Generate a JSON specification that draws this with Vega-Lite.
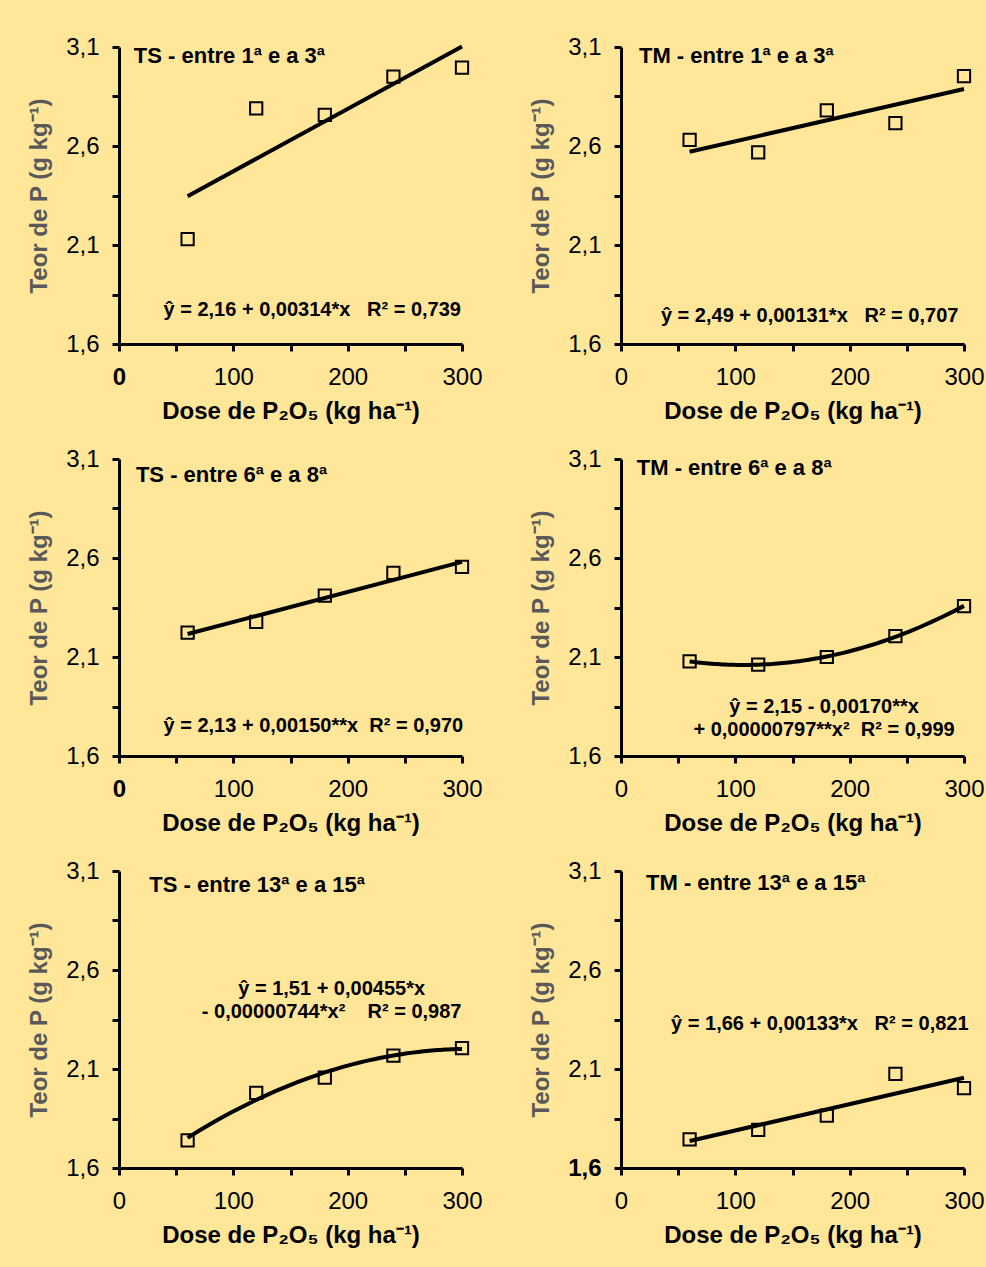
{
  "$schema": "https://vega.github.io/schema/vega-lite/v6.json",
  "background": "#FFE699",
  "padding": {"left": 27, "top": 35, "right": 5, "bottom": 22},
  "datasets": {
    "pts": [
      {"p": "TS1", "x": 60, "y": 2.13}, {"p": "TS1", "x": 120, "y": 2.79}, {"p": "TS1", "x": 180, "y": 2.757}, {"p": "TS1", "x": 240, "y": 2.95}, {"p": "TS1", "x": 300, "y": 2.996},
      {"p": "TM1", "x": 60, "y": 2.631}, {"p": "TM1", "x": 120, "y": 2.568}, {"p": "TM1", "x": 180, "y": 2.78}, {"p": "TM1", "x": 240, "y": 2.715}, {"p": "TM1", "x": 300, "y": 2.953},
      {"p": "TS6", "x": 60, "y": 2.223}, {"p": "TS6", "x": 120, "y": 2.278}, {"p": "TS6", "x": 180, "y": 2.41}, {"p": "TS6", "x": 240, "y": 2.525}, {"p": "TS6", "x": 300, "y": 2.555},
      {"p": "TM6", "x": 60, "y": 2.078}, {"p": "TM6", "x": 120, "y": 2.061}, {"p": "TM6", "x": 180, "y": 2.1}, {"p": "TM6", "x": 240, "y": 2.205}, {"p": "TM6", "x": 300, "y": 2.357},
      {"p": "TS13", "x": 60, "y": 1.739}, {"p": "TS13", "x": 120, "y": 1.979}, {"p": "TS13", "x": 180, "y": 2.057}, {"p": "TS13", "x": 240, "y": 2.167}, {"p": "TS13", "x": 300, "y": 2.206},
      {"p": "TM13", "x": 60, "y": 1.745}, {"p": "TM13", "x": 120, "y": 1.792}, {"p": "TM13", "x": 180, "y": 1.864}, {"p": "TM13", "x": 240, "y": 2.075}, {"p": "TM13", "x": 300, "y": 2.003}
    ]
  },
  "spacing": 24,
  "vconcat": [
    {
      "hconcat": [
        {
          "width": 343, "height": 297,
          "layer": [
            {"data": {"name": "pts"}, "transform": [{"filter": "datum.p == 'TS1'"}, {"regression": "y", "on": "x"}], "mark": {"type": "line", "color": "#000000", "strokeWidth": 4},
             "encoding": {"x": {"field": "x", "type": "quantitative"}, "y": {"field": "y", "type": "quantitative"}}},
            {"data": {"name": "pts"}, "transform": [{"filter": "datum.p == 'TS1'"}], "mark": {"type": "point", "shape": "square", "size": 150, "filled": false, "color": "#000000", "strokeWidth": 2, "opacity": 1},
             "encoding": {
               "x": {"field": "x", "type": "quantitative", "scale": {"domain": [0, 300], "nice": false}, "axis": {"values": [0, 50, 100, 150, 200, 250, 300], "labelExpr": "datum.value % 100 == 0 ? '' + datum.value : ''", "labelFontWeight": {"condition": {"test": "datum.value == 0", "value": "bold"}, "value": "normal"}, "title": "Dose de P₂O₅ (kg ha⁻¹)"}},
               "y": {"field": "y", "type": "quantitative", "scale": {"domain": [1.6, 3.1], "nice": false, "zero": false}, "axis": {"values": [1.6, 1.85, 2.1, 2.35, 2.6, 2.85, 3.1], "labelExpr": "round((datum.value - 1.6) * 4) % 2 == 1 ? '' : replace(format(datum.value, '.1f'), '.', ',')", "title": "Teor de P (g kg⁻¹)"}}
             }},
            {"data": {"values": [{"t": "TS - entre 1ª e a 3ª"}]}, "mark": {"type": "text", "align": "left", "baseline": "alphabetic", "fontSize": 22}, "encoding": {"x": {"datum": 13, "type": "quantitative"}, "y": {"datum": 3.02, "type": "quantitative"}, "text": {"field": "t"}}},
            {"data": {"values": [{"t": "ŷ = 2,16 + 0,00314*x\u00a0\u00a0\u00a0R² = 0,739"}]}, "mark": {"type": "text", "align": "center", "baseline": "alphabetic", "fontSize": 20}, "encoding": {"x": {"datum": 169, "type": "quantitative"}, "y": {"datum": 1.74, "type": "quantitative"}, "text": {"field": "t"}}}
          ]
        },
        {
          "width": 343, "height": 297,
          "layer": [
            {"data": {"name": "pts"}, "transform": [{"filter": "datum.p == 'TM1'"}, {"regression": "y", "on": "x"}], "mark": {"type": "line", "color": "#000000", "strokeWidth": 4},
             "encoding": {"x": {"field": "x", "type": "quantitative"}, "y": {"field": "y", "type": "quantitative"}}},
            {"data": {"name": "pts"}, "transform": [{"filter": "datum.p == 'TM1'"}], "mark": {"type": "point", "shape": "square", "size": 150, "filled": false, "color": "#000000", "strokeWidth": 2, "opacity": 1},
             "encoding": {
               "x": {"field": "x", "type": "quantitative", "scale": {"domain": [0, 300], "nice": false}, "axis": {"values": [0, 50, 100, 150, 200, 250, 300], "labelExpr": "datum.value % 100 == 0 ? '' + datum.value : ''", "title": "Dose de P₂O₅ (kg ha⁻¹)"}},
               "y": {"field": "y", "type": "quantitative", "scale": {"domain": [1.6, 3.1], "nice": false, "zero": false}, "axis": {"values": [1.6, 1.85, 2.1, 2.35, 2.6, 2.85, 3.1], "labelExpr": "round((datum.value - 1.6) * 4) % 2 == 1 ? '' : replace(format(datum.value, '.1f'), '.', ',')", "title": "Teor de P (g kg⁻¹)"}}
             }},
            {"data": {"values": [{"t": "TM - entre 1ª e a 3ª"}]}, "mark": {"type": "text", "align": "left", "baseline": "alphabetic", "fontSize": 22}, "encoding": {"x": {"datum": 15.7, "type": "quantitative"}, "y": {"datum": 3.02, "type": "quantitative"}, "text": {"field": "t"}}},
            {"data": {"values": [{"t": "ŷ = 2,49 + 0,00131*x\u00a0\u00a0\u00a0R² = 0,707"}]}, "mark": {"type": "text", "align": "center", "baseline": "alphabetic", "fontSize": 20}, "encoding": {"x": {"datum": 165, "type": "quantitative"}, "y": {"datum": 1.712, "type": "quantitative"}, "text": {"field": "t"}}}
          ]
        }
      ],
      "spacing": 159,
      "bounds": "flush"
    },
    {
      "hconcat": [
        {
          "width": 343, "height": 297,
          "layer": [
            {"data": {"name": "pts"}, "transform": [{"filter": "datum.p == 'TS6'"}, {"regression": "y", "on": "x"}], "mark": {"type": "line", "color": "#000000", "strokeWidth": 4},
             "encoding": {"x": {"field": "x", "type": "quantitative"}, "y": {"field": "y", "type": "quantitative"}}},
            {"data": {"name": "pts"}, "transform": [{"filter": "datum.p == 'TS6'"}], "mark": {"type": "point", "shape": "square", "size": 150, "filled": false, "color": "#000000", "strokeWidth": 2, "opacity": 1},
             "encoding": {
               "x": {"field": "x", "type": "quantitative", "scale": {"domain": [0, 300], "nice": false}, "axis": {"values": [0, 50, 100, 150, 200, 250, 300], "labelExpr": "datum.value % 100 == 0 ? '' + datum.value : ''", "labelFontWeight": {"condition": {"test": "datum.value == 0", "value": "bold"}, "value": "normal"}, "title": "Dose de P₂O₅ (kg ha⁻¹)"}},
               "y": {"field": "y", "type": "quantitative", "scale": {"domain": [1.6, 3.1], "nice": false, "zero": false}, "axis": {"values": [1.6, 1.85, 2.1, 2.35, 2.6, 2.85, 3.1], "labelExpr": "round((datum.value - 1.6) * 4) % 2 == 1 ? '' : replace(format(datum.value, '.1f'), '.', ',')", "title": "Teor de P (g kg⁻¹)"}}
             }},
            {"data": {"values": [{"t": "TS - entre 6ª e a 8ª"}]}, "mark": {"type": "text", "align": "left", "baseline": "alphabetic", "fontSize": 22}, "encoding": {"x": {"datum": 14.8, "type": "quantitative"}, "y": {"datum": 2.986, "type": "quantitative"}, "text": {"field": "t"}}},
            {"data": {"values": [{"t": "ŷ = 2,13 + 0,00150**x\u00a0\u00a0R² = 0,970"}]}, "mark": {"type": "text", "align": "center", "baseline": "alphabetic", "fontSize": 20}, "encoding": {"x": {"datum": 170, "type": "quantitative"}, "y": {"datum": 1.719, "type": "quantitative"}, "text": {"field": "t"}}}
          ]
        },
        {
          "width": 343, "height": 297,
          "layer": [
            {"data": {"name": "pts"}, "transform": [{"filter": "datum.p == 'TM6'"}, {"regression": "y", "on": "x", "method": "poly", "order": 2}], "mark": {"type": "line", "color": "#000000", "strokeWidth": 4},
             "encoding": {"x": {"field": "x", "type": "quantitative"}, "y": {"field": "y", "type": "quantitative"}}},
            {"data": {"name": "pts"}, "transform": [{"filter": "datum.p == 'TM6'"}], "mark": {"type": "point", "shape": "square", "size": 150, "filled": false, "color": "#000000", "strokeWidth": 2, "opacity": 1},
             "encoding": {
               "x": {"field": "x", "type": "quantitative", "scale": {"domain": [0, 300], "nice": false}, "axis": {"values": [0, 50, 100, 150, 200, 250, 300], "labelExpr": "datum.value % 100 == 0 ? '' + datum.value : ''", "title": "Dose de P₂O₅ (kg ha⁻¹)"}},
               "y": {"field": "y", "type": "quantitative", "scale": {"domain": [1.6, 3.1], "nice": false, "zero": false}, "axis": {"values": [1.6, 1.85, 2.1, 2.35, 2.6, 2.85, 3.1], "labelExpr": "round((datum.value - 1.6) * 4) % 2 == 1 ? '' : replace(format(datum.value, '.1f'), '.', ',')", "title": "Teor de P (g kg⁻¹)"}}
             }},
            {"data": {"values": [{"t": "TM - entre 6ª e a 8ª"}]}, "mark": {"type": "text", "align": "left", "baseline": "alphabetic", "fontSize": 22}, "encoding": {"x": {"datum": 13.8, "type": "quantitative"}, "y": {"datum": 3.02, "type": "quantitative"}, "text": {"field": "t"}}},
            {"data": {"values": [{"t": ["ŷ = 2,15 - 0,00170**x", "+ 0,00000797**x²\u00a0\u00a0R² = 0,999"]}]}, "mark": {"type": "text", "align": "center", "baseline": "alphabetic", "fontSize": 20, "lineHeight": 23}, "encoding": {"x": {"datum": 177.6, "type": "quantitative"}, "y": {"datum": 1.818, "type": "quantitative"}, "text": {"field": "t"}}}
          ]
        }
      ],
      "spacing": 159,
      "bounds": "flush"
    },
    {
      "hconcat": [
        {
          "width": 343, "height": 297,
          "layer": [
            {"data": {"name": "pts"}, "transform": [{"filter": "datum.p == 'TS13'"}, {"regression": "y", "on": "x", "method": "poly", "order": 2}], "mark": {"type": "line", "color": "#000000", "strokeWidth": 4},
             "encoding": {"x": {"field": "x", "type": "quantitative"}, "y": {"field": "y", "type": "quantitative"}}},
            {"data": {"name": "pts"}, "transform": [{"filter": "datum.p == 'TS13'"}], "mark": {"type": "point", "shape": "square", "size": 150, "filled": false, "color": "#000000", "strokeWidth": 2, "opacity": 1},
             "encoding": {
               "x": {"field": "x", "type": "quantitative", "scale": {"domain": [0, 300], "nice": false}, "axis": {"values": [0, 50, 100, 150, 200, 250, 300], "labelExpr": "datum.value % 100 == 0 ? '' + datum.value : ''", "title": "Dose de P₂O₅ (kg ha⁻¹)"}},
               "y": {"field": "y", "type": "quantitative", "scale": {"domain": [1.6, 3.1], "nice": false, "zero": false}, "axis": {"values": [1.6, 1.85, 2.1, 2.35, 2.6, 2.85, 3.1], "labelExpr": "round((datum.value - 1.6) * 4) % 2 == 1 ? '' : replace(format(datum.value, '.1f'), '.', ',')", "title": "Teor de P (g kg⁻¹)"}}
             }},
            {"data": {"values": [{"t": "TS - entre 13ª e a 15ª"}]}, "mark": {"type": "text", "align": "left", "baseline": "alphabetic", "fontSize": 22}, "encoding": {"x": {"datum": 26.5, "type": "quantitative"}, "y": {"datum": 2.994, "type": "quantitative"}, "text": {"field": "t"}}},
            {"data": {"values": [{"t": ["ŷ = 1,51 + 0,00455*x", "- 0,00000744*x²\u00a0\u00a0\u00a0\u00a0R² = 0,987"]}]}, "mark": {"type": "text", "align": "center", "baseline": "alphabetic", "fontSize": 20, "lineHeight": 23}, "encoding": {"x": {"datum": 186, "type": "quantitative"}, "y": {"datum": 2.472, "type": "quantitative"}, "text": {"field": "t"}}}
          ]
        },
        {
          "width": 343, "height": 297,
          "layer": [
            {"data": {"name": "pts"}, "transform": [{"filter": "datum.p == 'TM13'"}, {"regression": "y", "on": "x"}], "mark": {"type": "line", "color": "#000000", "strokeWidth": 4},
             "encoding": {"x": {"field": "x", "type": "quantitative"}, "y": {"field": "y", "type": "quantitative"}}},
            {"data": {"name": "pts"}, "transform": [{"filter": "datum.p == 'TM13'"}], "mark": {"type": "point", "shape": "square", "size": 150, "filled": false, "color": "#000000", "strokeWidth": 2, "opacity": 1},
             "encoding": {
               "x": {"field": "x", "type": "quantitative", "scale": {"domain": [0, 300], "nice": false}, "axis": {"values": [0, 50, 100, 150, 200, 250, 300], "labelExpr": "datum.value % 100 == 0 ? '' + datum.value : ''", "title": "Dose de P₂O₅ (kg ha⁻¹)"}},
               "y": {"field": "y", "type": "quantitative", "scale": {"domain": [1.6, 3.1], "nice": false, "zero": false}, "axis": {"values": [1.6, 1.85, 2.1, 2.35, 2.6, 2.85, 3.1], "labelExpr": "round((datum.value - 1.6) * 4) % 2 == 1 ? '' : replace(format(datum.value, '.1f'), '.', ',')", "labelFontWeight": {"condition": {"test": "datum.value == 1.6", "value": "bold"}, "value": "normal"}, "title": "Teor de P (g kg⁻¹)"}}
             }},
            {"data": {"values": [{"t": "TM - entre 13ª e a 15ª"}]}, "mark": {"type": "text", "align": "left", "baseline": "alphabetic", "fontSize": 22}, "encoding": {"x": {"datum": 21.9, "type": "quantitative"}, "y": {"datum": 3.004, "type": "quantitative"}, "text": {"field": "t"}}},
            {"data": {"values": [{"t": "ŷ = 1,66 + 0,00133*x\u00a0\u00a0\u00a0R² = 0,821"}]}, "mark": {"type": "text", "align": "center", "baseline": "alphabetic", "fontSize": 20}, "encoding": {"x": {"datum": 173.9, "type": "quantitative"}, "y": {"datum": 2.297, "type": "quantitative"}, "text": {"field": "t"}}}
          ]
        }
      ],
      "spacing": 159,
      "bounds": "flush"
    }
  ],
  "config": {
    "view": {"stroke": null},
    "font": "Liberation Sans",
    "axis": {
      "grid": false,
      "domainColor": "#000000", "domainWidth": 3,
      "tickColor": "#000000", "tickWidth": 3, "tickSize": 7,
      "labelFont": "Liberation Sans", "labelFontSize": 24, "labelColor": "#000000",
      "labelFlush": false, "labelOverlap": false, "labelBound": false,
      "titleFont": "Liberation Sans", "titleFontSize": 24, "titleFontWeight": "bold"
    },
    "axisX": {"titleColor": "#000000", "labelPadding": 14, "titlePadding": 10},
    "axisY": {"titleColor": "#595959", "labelPadding": 13, "titlePadding": 14},
    "text": {"font": "Liberation Sans", "fontWeight": "bold", "color": "#000000"}
  }
}
